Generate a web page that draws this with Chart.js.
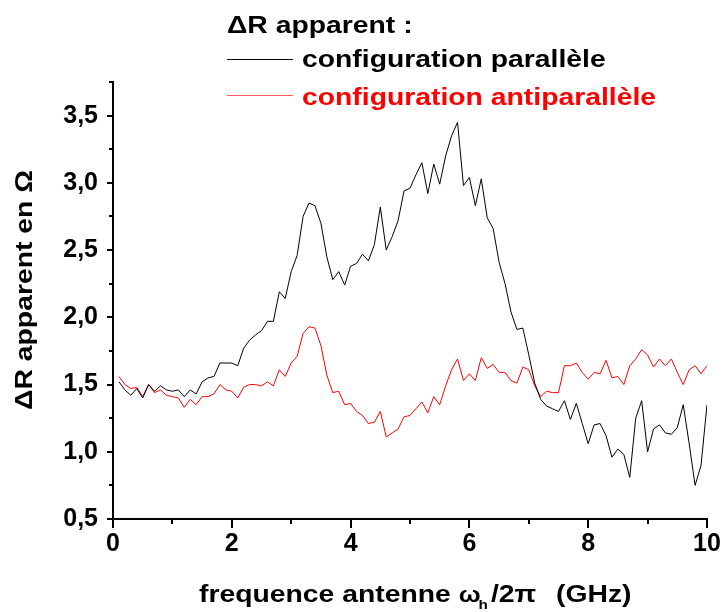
<!DOCTYPE html>
<html>
<head>
<meta charset="utf-8">
<script src="https://cdn.jsdelivr.net/npm/chart.js@4"></script>
<style>
  html, body { margin: 0; padding: 0; background: #fff; }
  #wrap { width: 726px; height: 612px; position: relative; }
</style>
</head>
<body>
<div id="wrap"><canvas id="myChart"></canvas></div>
<script>
// frequence (GHz)
const freq = [
  0.1, 0.2, 0.3, 0.4, 0.5, 0.6, 0.7, 0.8, 0.9, 1.0,
  1.1, 1.2, 1.3, 1.4, 1.5, 1.6, 1.7, 1.8, 1.9, 2.0,
  2.1, 2.2, 2.3, 2.4, 2.5, 2.6, 2.7, 2.8, 2.9, 3.0,
  3.1, 3.2, 3.3, 3.4, 3.5, 3.6, 3.7, 3.8, 3.9, 4.0,
  4.1, 4.2, 4.3, 4.4, 4.5, 4.6, 4.7, 4.8, 4.9, 5.0,
  5.1, 5.2, 5.3, 5.4, 5.5, 5.6, 5.7, 5.8, 5.9, 6.0,
  6.1, 6.2, 6.3, 6.4, 6.5, 6.6, 6.7, 6.8, 6.9, 7.0,
  7.1, 7.2, 7.3, 7.4, 7.5, 7.6, 7.7, 7.8, 7.9, 8.0,
  8.1, 8.2, 8.3, 8.4, 8.5, 8.6, 8.7, 8.8, 8.9, 9.0,
  9.1, 9.2, 9.3, 9.4, 9.5, 9.6, 9.7, 9.8, 9.9, 10.0
];

// ΔR apparent (Ω), configuration parallèle
const parallele = [
  1.52, 1.46, 1.42, 1.47, 1.40, 1.50, 1.45, 1.49, 1.46, 1.45,
  1.46, 1.41, 1.46, 1.43, 1.52, 1.55, 1.56, 1.66, 1.66, 1.66,
  1.64, 1.77, 1.83, 1.87, 1.90, 1.97, 1.97, 2.19, 2.14, 2.34,
  2.46, 2.75, 2.85, 2.83, 2.70, 2.45, 2.28, 2.34, 2.24, 2.38,
  2.40, 2.47, 2.42, 2.54, 2.82, 2.50, 2.60, 2.72, 2.94, 2.96,
  3.06, 3.15, 2.92, 3.14, 2.99, 3.20, 3.35, 3.45, 2.98, 3.04,
  2.83, 3.03, 2.74, 2.66, 2.41, 2.25, 2.04, 1.91, 1.92, 1.72,
  1.51, 1.39, 1.34, 1.32, 1.30, 1.38, 1.24, 1.36, 1.21, 1.06,
  1.20, 1.21, 1.12, 0.96, 1.02, 0.98, 0.81, 1.25, 1.38, 1.00,
  1.17, 1.20, 1.14, 1.13, 1.18, 1.35, 1.06, 0.75, 0.90, 1.35
];

// ΔR apparent (Ω), configuration antiparallèle
const antiparallele = [
  1.56, 1.50, 1.47, 1.48, 1.41, 1.50, 1.44, 1.46, 1.42, 1.41,
  1.40, 1.33, 1.39, 1.35, 1.41, 1.41, 1.43, 1.50, 1.46, 1.45,
  1.40, 1.48, 1.50, 1.50, 1.49, 1.52, 1.49, 1.61, 1.56, 1.66,
  1.71, 1.88, 1.93, 1.92, 1.79, 1.57, 1.44, 1.45, 1.35, 1.36,
  1.30, 1.27, 1.21, 1.22, 1.30, 1.11, 1.14, 1.17, 1.26, 1.27,
  1.32, 1.37, 1.29, 1.41, 1.35, 1.49, 1.61, 1.69, 1.53, 1.58,
  1.53, 1.70, 1.62, 1.65, 1.59, 1.59, 1.53, 1.51, 1.63, 1.61,
  1.49, 1.41, 1.45, 1.44, 1.44, 1.64, 1.64, 1.66, 1.59, 1.54,
  1.59, 1.58, 1.68, 1.55, 1.56, 1.50, 1.64, 1.69, 1.76, 1.72,
  1.63, 1.69, 1.64, 1.69, 1.59, 1.50, 1.61, 1.64, 1.58, 1.64
];

const seriesNames = ["configuration parallèle", "configuration antiparallèle"];
const seriesColors = ["#000000", "#ff0000"];
const legendColors = ["#000000", "#ff5a5a"];
const legendTitle = "ΔR apparent :";
const yTitle = "ΔR apparent en Ω";

const FONT = "'Liberation Sans', Arial, Helvetica, sans-serif";
const STRETCH = 1.18;

function toPoints(ys) {
  return freq.map((f, i) => ({ x: f, y: ys[i] }));
}

// texte bold un peu élargi
function wideText(ctx, txt, x, y, size, color) {
  ctx.save();
  ctx.font = "bold " + size + "px " + FONT;
  ctx.fillStyle = color;
  ctx.textBaseline = "alphabetic";
  ctx.textAlign = "left";
  ctx.translate(x, y);
  ctx.scale(STRETCH, 1);
  ctx.fillText(txt, 0, 0);
  const w = ctx.measureText(txt).width * STRETCH;
  ctx.restore();
  return w;
}

// graduations, légende et titres
const decor = {
  id: "decor",
  afterDraw(chart) {
    const ctx = chart.ctx;
    const xs = chart.scales.x;
    const ys = chart.scales.y;
    const area = chart.chartArea;

    ctx.save();
    ctx.strokeStyle = "#000";
    ctx.lineWidth = 2;
    ys.ticks.forEach(t => {
      const py = Math.round(ys.getPixelForValue(t.value));
      const major = Math.round(t.value * 100) % 50 === 0;
      const len = major ? 6 : 4;
      ctx.beginPath();
      ctx.moveTo(area.left - len, py);
      ctx.lineTo(area.left, py);
      ctx.stroke();
    });
    xs.ticks.forEach(t => {
      const px = Math.round(xs.getPixelForValue(t.value));
      const major = Math.round(t.value) % 2 === 0;
      const len = major ? 9 : 5;
      ctx.beginPath();
      ctx.moveTo(px, area.bottom);
      ctx.lineTo(px, area.bottom + len);
      ctx.stroke();
    });
    ctx.restore();

    // légende
    wideText(ctx, legendTitle, 227, 33, 24, "#000");
    const rows = [{ y: 59.5, base: 67 }, { y: 95.5, base: 105 }];
    rows.forEach((r, i) => {
      ctx.save();
      ctx.strokeStyle = legendColors[i];
      ctx.lineWidth = 1;
      ctx.beginPath();
      ctx.moveTo(227, r.y);
      ctx.lineTo(293, r.y);
      ctx.stroke();
      ctx.restore();
      wideText(ctx, seriesNames[i], 302, r.base, 24, seriesColors[i]);
    });

    // titre axe y
    ctx.save();
    ctx.font = "bold 24px " + FONT;
    ctx.fillStyle = "#000";
    ctx.textAlign = "center";
    ctx.textBaseline = "alphabetic";
    ctx.translate(32, 290);
    ctx.rotate(-Math.PI / 2);
    ctx.scale(STRETCH, 1);
    ctx.fillText(yTitle, 0, 0);
    ctx.restore();

    // titre axe x : frequence antenne ω_h/2π  (GHz)
    const base = 602;
    let x = 199;
    x += wideText(ctx, "frequence antenne ", x, base, 24, "#000");
    x += wideText(ctx, "ω", x, base, 22, "#000");
    x += wideText(ctx, "h", x - 2, base + 7, 13, "#000");
    x += 1;
    x += wideText(ctx, "/2π", x, base, 24, "#000");
    wideText(ctx, "  (GHz)", x + 4, base, 24, "#000");
  }
};

const ctx = document.getElementById("myChart").getContext("2d");
new Chart(ctx, {
  type: "line",
  data: {
    datasets: [
      {
        label: seriesNames[0],
        data: toPoints(parallele),
        borderColor: seriesColors[0],
        borderWidth: 1,
        pointRadius: 0,
        tension: 0
      },
      {
        label: seriesNames[1],
        data: toPoints(antiparallele),
        borderColor: seriesColors[1],
        borderWidth: 1,
        pointRadius: 0,
        tension: 0
      }
    ]
  },
  options: {
    responsive: true,
    maintainAspectRatio: false,
    animation: false,
    devicePixelRatio: 1,
    layout: { padding: { left: 0, right: 19, top: 82, bottom: 0 } },
    plugins: {
      legend: { display: false },
      tooltip: { enabled: false }
    },
    scales: {
      x: {
        type: "linear",
        min: 0,
        max: 10,
        afterFit: s => { s.height = 93; },
        border: { display: true, color: "#000", width: 2 },
        grid: { drawOnChartArea: false, color: "transparent", tickLength: 8 },
        ticks: {
          stepSize: 1,
          autoSkip: false,
          maxRotation: 0,
          padding: 2,
          color: "#000",
          font: { family: FONT, size: 25, weight: "bold" },
          callback: v => (Math.round(v) % 2 === 0 ? String(v) : "")
        }
      },
      y: {
        min: 0.5,
        max: 3.75,
        afterFit: s => { s.width = 113; },
        border: { display: true, color: "#000", width: 2 },
        grid: { drawOnChartArea: false, color: "transparent", tickLength: 8 },
        ticks: {
          stepSize: 0.25,
          autoSkip: false,
          padding: 7,
          color: "#000",
          font: { family: FONT, size: 25, weight: "bold" },
          callback: v => (Math.round(v * 100) % 50 === 0 ? v.toFixed(1).replace(".", ",") : "")
        }
      }
    }
  },
  plugins: [decor]
});
</script>
</body>
</html>
